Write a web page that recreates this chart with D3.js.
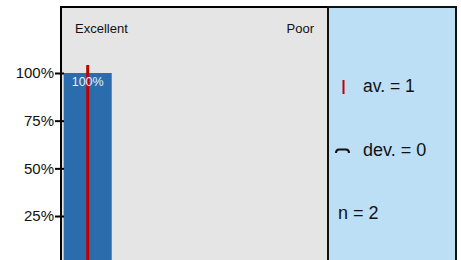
<!DOCTYPE html>
<html>
<head>
<meta charset="utf-8">
<script src="https://cdn.jsdelivr.net/npm/d3@7"></script>
<style>
  body { margin: 0; background: #fff; }
  svg { display: block; font-family: "Liberation Sans", Arial, sans-serif; }
</style>
</head>
<body>
<div id="container"></div>
<script>
const categories = ["1", "2", "3", "4", "5"];
const shares = [100, 0, 0, 0, 0];
const scaleEnds = ["Excellent", "Poor"];
const yTicks = [25, 50, 75, 100];
const average = 1;
const deviation = 0;
const count = 2;

const width = 461;
const height = 260;
const panelLeft = 61;
const panelRight = 328;
const panelTop = 7;
const legendRight = 456;

const svg = d3.create("svg")
  .attr("width", width)
  .attr("height", height);

const x = d3.scaleBand()
  .domain(categories)
  .range([panelLeft, panelRight])
  .paddingInner(0.1)
  .paddingOuter(0.05);

const xMean = d3.scaleLinear()
  .domain([1, categories.length])
  .range([x(categories[0]) + x.bandwidth() / 2, x(categories[categories.length - 1]) + x.bandwidth() / 2]);

const y = d3.scaleLinear()
  .domain([0, 100])
  .range([263.7, 73]);

// chart panel
svg.append("rect")
  .attr("x", panelLeft)
  .attr("y", panelTop)
  .attr("width", panelRight - panelLeft)
  .attr("height", height)
  .attr("fill", "#e5e5e5")
  .attr("stroke", "#000")
  .attr("stroke-width", 2);

// legend panel
svg.append("rect")
  .attr("x", panelRight)
  .attr("y", panelTop)
  .attr("width", legendRight - panelRight)
  .attr("height", height)
  .attr("fill", "#bddff6")
  .attr("stroke", "#111")
  .attr("stroke-width", 2);

svg.append("g")
  .selectAll()
  .data(categories)
  .join("rect")
  .attr("x", d => x(d))
  .attr("y", (d, i) => y(shares[i]))
  .attr("width", x.bandwidth())
  .attr("height", (d, i) => y(0) - y(shares[i]))
  .attr("fill", "#2b6dac");

// mean line
svg.append("line")
  .attr("x1", xMean(average))
  .attr("x2", xMean(average))
  .attr("y1", 65)
  .attr("y2", height)
  .attr("stroke", "#c00000")
  .attr("stroke-width", 3);

svg.append("g")
  .selectAll()
  .data(categories.filter((d, i) => shares[i] > 0))
  .join("text")
  .attr("x", d => x(d) + x.bandwidth() / 2)
  .attr("y", d => y(shares[categories.indexOf(d)]) + 13)
  .attr("text-anchor", "middle")
  .attr("font-size", "12.5px")
  .attr("fill", "#e8f0fa")
  .text(d => shares[categories.indexOf(d)] + "%");

// y axis
const yAxis = svg.append("g")
  .attr("transform", `translate(${panelLeft},0)`)
  .call(d3.axisLeft(y).tickValues(yTicks).tickFormat(d => d + "%").tickSize(6).tickPadding(2));
yAxis.select(".domain").remove();
yAxis.selectAll(".tick line")
  .attr("x2", 3)
  .attr("x1", -6)
  .attr("stroke-width", 2);
yAxis.selectAll(".tick text")
  .attr("x", -7)
  .attr("font-size", "15px")
  .attr("font-family", "Liberation Sans, Arial, sans-serif")
  .attr("fill", "#111");

svg.append("text")
  .attr("x", 75)
  .attr("y", 33)
  .attr("font-size", "13px")
  .attr("fill", "#111")
  .text(scaleEnds[0]);

svg.append("text")
  .attr("x", 314)
  .attr("y", 33)
  .attr("text-anchor", "end")
  .attr("font-size", "13px")
  .attr("fill", "#111")
  .text(scaleEnds[1]);

// legend
svg.append("line")
  .attr("x1", 343.5).attr("x2", 343.5)
  .attr("y1", 80).attr("y2", 94)
  .attr("stroke", "#c00000")
  .attr("stroke-width", 2);

svg.append("text")
  .attr("x", 363)
  .attr("y", 92)
  .attr("font-size", "17.5px")
  .attr("fill", "#111")
  .text(`av. = ${average}`);

svg.append("path")
  .attr("d", "M336,153 Q336,149.5 339,149.5 L346,149.5 Q349,149.5 349,153")
  .attr("fill", "none")
  .attr("stroke", "#111")
  .attr("stroke-width", 2);

svg.append("text")
  .attr("x", 363)
  .attr("y", 156)
  .attr("font-size", "18px")
  .attr("fill", "#111")
  .text(`dev. = ${deviation}`);

svg.append("text")
  .attr("x", 338)
  .attr("y", 219)
  .attr("font-size", "18px")
  .attr("fill", "#111")
  .text(`n = ${count}`);

d3.select("#container").append(() => svg.node());
</script>
</body>
</html>
